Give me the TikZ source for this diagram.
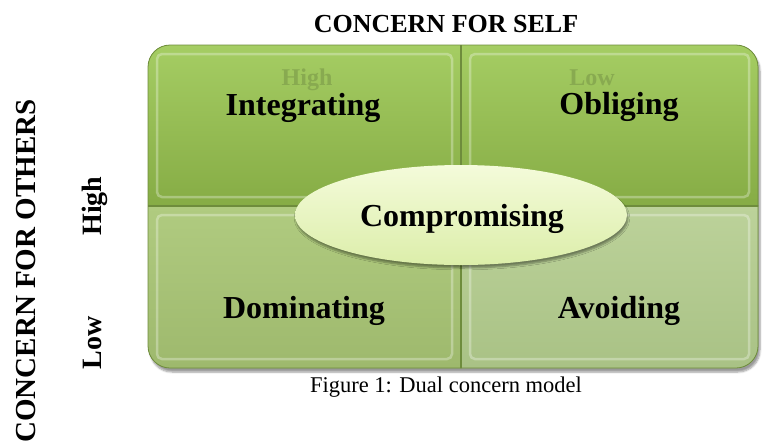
\documentclass[tikz,border=0pt]{standalone}
\usepackage{fontspec}
\setmainfont{Liberation Serif}
\usetikzlibrary{shapes.geometric,positioning,shadows.blur}
\definecolor{quadlight}{HTML}{A6CE64}
\definecolor{quaddark}{HTML}{86AC45}
\definecolor{palelight}{HTML}{B0CB80}
\definecolor{paledark}{HTML}{9DB86C}
\definecolor{palerlight}{HTML}{BCD29A}
\definecolor{palerdark}{HTML}{A8C184}
\definecolor{edgegreen}{HTML}{6E8C3C}
\definecolor{ovallight}{HTML}{F4FBDA}
\definecolor{ovaldark}{HTML}{DCEEAA}
\definecolor{faintlabel}{HTML}{88AA50}

\begin{document}
\begin{tikzpicture}[x=1pt,y=-1pt,
  quad/.style={draw=edgegreen, line width=1.4pt},
  bevel/.style={draw=white, draw opacity=0.3, line width=2.5pt, rounded corners=5pt},
  cell/.style={anchor=base, inner sep=0pt, font=\fontsize{32}{36}\selectfont\bfseries},
  faint/.style={anchor=base, inner sep=0pt, text=faintlabel, font=\fontsize{24}{28}\selectfont\bfseries},
  axis/.style={anchor=base, font=\fontsize{26}{30}\selectfont\bfseries},
  level/.style={anchor=base, rotate=90, font=\fontsize{28}{32}\selectfont\bfseries}]
  \useasboundingbox (0,0) rectangle (767,445);

  % Outer frame with its shadow
  \path[fill=quaddark, rounded corners=22pt, blur shadow={shadow xshift=2pt, shadow yshift=-4pt, shadow blur steps=6}]
    (148,45) rectangle (758,368);

  % Four quadrants, clipped to the rounded frame
  \begin{scope}
    \clip[rounded corners=22pt] (148,45) rectangle (758,368);
    \path[quad, top color=quadlight, bottom color=quaddark] (140,40) rectangle (461,206);
    \path[quad, top color=quadlight, bottom color=quaddark] (461,40) rectangle (766,206);
    \path[quad, top color=palelight, bottom color=paledark] (140,206) rectangle (461,376);
    \path[quad, top color=palerlight, bottom color=palerdark] (461,206) rectangle (766,376);
    % bevel highlights
    \draw[bevel] (157,54) rectangle (452,197);
    \draw[bevel] (470,54) rectangle (749,197);
    \draw[bevel] (157,215) rectangle (452,359);
    \draw[bevel] (470,215) rectangle (749,359);
  \end{scope}
  \draw[edgegreen, line width=0.8pt, rounded corners=22pt] (148,45) rectangle (758,368);

  % Axis labels
  \node[axis] (selfaxis) at (446,32) {CONCERN FOR SELF};
  \node[axis, rotate=90, font=\fontsize{29}{32}\selectfont\bfseries] (othersaxis) at (35,271) {CONCERN FOR OTHERS};
  \node[level] (highothers) at (101,206) {High};
  \node[level] (lowothers) at (101,343) {Low};
  \node[faint] (highself) at (307,85) {High};
  \node[faint] (lowself) at (592,85) {Low};

  % Styles of handling conflict
  \node[cell] (integrating) at (303,115) {Integrating};
  \node[cell] (obliging) at (619,114) {Obliging};
  \node[cell] (dominating) at (304,318) {Dominating};
  \node[cell] (avoiding) at (619,318) {Avoiding};

  \node[ellipse, minimum width=332pt, minimum height=100pt, top color=ovallight, bottom color=ovaldark,
    blur shadow={shadow xshift=1pt, shadow yshift=-3pt, shadow blur steps=5}] (compromise) at (461,215) {};
  \node[cell] (compromising) at (462,226) {Compromising};

  \node[anchor=base, font=\fontsize{22.5}{26}\selectfont] (caption) at (446,392) {Figure 1: Dual concern model};
\end{tikzpicture}
\end{document}
